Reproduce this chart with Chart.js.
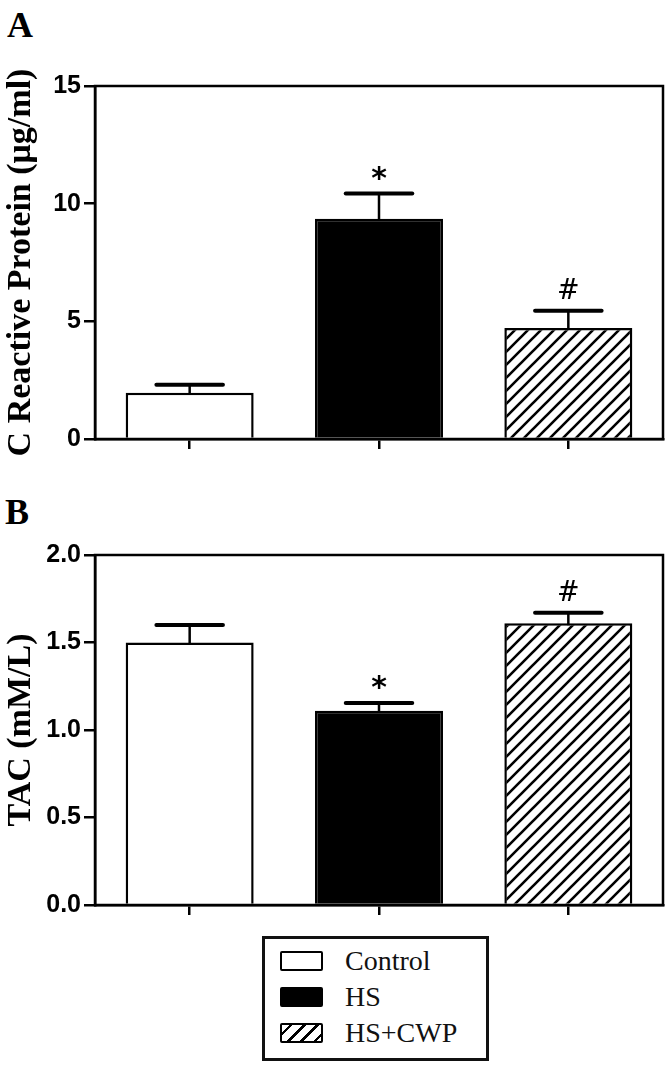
<!DOCTYPE html>
<html>
<head>
<meta charset="utf-8">
<script src="https://cdn.jsdelivr.net/npm/chart.js@4.4.1/dist/chart.umd.min.js"></script>
<style>
    body { margin: 0; background: #fff; width: 668px; height: 1071px; position: relative; overflow: hidden; }
    .painel { position: absolute; left: 0; width: 668px; }
    .letra { position: absolute; font: bold 36px "Liberation Serif", serif; line-height: 36px; color: #000; }
    #legenda {
        position: absolute; left: 262px; top: 936px; width: 227px; height: 125px;
        box-sizing: border-box; border: 3px solid #111; padding: 4px 0 0 15px;
        font: 28px "Liberation Serif", serif; color: #111;
    }
    .item { display: flex; align-items: center; height: 36px; }
    .amostra { width: 43px; height: 20px; box-sizing: border-box; border: 2.5px solid #000; border-radius: 2px; margin-right: 22px; }
</style>
</head>
<body>

<div class="letra" style="left:7px; top:7px">A</div>
<div class="painel" style="top:0; height:470px"><canvas id="grafico-a"></canvas></div>

<div class="letra" style="left:5px; top:494px">B</div>
<div class="painel" style="top:470px; height:460px"><canvas id="grafico-b"></canvas></div>

<div id="legenda">
    <div class="item"><div class="amostra" style="background:#fff"></div>Control</div>
    <div class="item"><div class="amostra" style="background:#000"></div>HS</div>
    <div class="item"><div class="amostra" style="background:repeating-linear-gradient(135deg, #fff 0 5px, #000 5px 7.5px, #fff 7.5px 9.5px)"></div>HS+CWP</div>
</div>

<script>
// Grupos
const grupos = ['Control', 'HS', 'HS+CWP'];

// Painel A - proteína C reativa (µg/ml)
const pcrMedia = [1.96, 9.36, 4.72];
const pcrErro = [0.34, 1.07, 0.73];
const pcrMarcas = ['', '*', '#'];
const pcrTicks = [0, 5, 10, 15];
const pcrTitulo = 'C Reactive Protein (\u03bcg/ml)';

// Painel B - capacidade antioxidante total (mM/L)
const tacMedia = [1.50, 1.11, 1.61];
const tacErro = [0.10, 0.045, 0.06];
const tacMarcas = ['', '*', '#'];
const tacTicks = [0, 0.5, 1.0, 1.5, 2.0];
const tacTitulo = 'TAC (mM/L)';

// Padrão de hachura diagonal
function criarHachura() {
    const s = 13;
    const c = document.createElement('canvas');
    c.width = s; c.height = s;
    const g = c.getContext('2d');
    g.fillStyle = '#fff';
    g.fillRect(0, 0, s, s);
    g.strokeStyle = '#000';
    g.lineWidth = 2.6;
    g.beginPath();
    g.moveTo(-2, s + 2); g.lineTo(s + 2, -2);
    g.moveTo(-2, 2); g.lineTo(2, -2);
    g.moveTo(s - 2, s + 2); g.lineTo(s + 2, s - 2);
    g.stroke();
    return g.createPattern(c, 'repeat');
}

// Barras de erro, marcas, moldura e título do eixo y
function pluginPainel(erros, marcas, titulo) {
    return {
        id: 'painel',
        afterDatasetsDraw(chart) {
            const ctx = chart.ctx;
            const y = chart.scales.y;
            const valores = chart.data.datasets[0].data;
            ctx.save();
            ctx.strokeStyle = '#000';
            ctx.fillStyle = '#000';
            chart.getDatasetMeta(0).data.forEach((barra, i) => {
                const topo = y.getPixelForValue(valores[i] + erros[i]);
                const meio = barra.width * 0.26;
                ctx.lineWidth = 2.5;
                ctx.lineCap = 'butt';
                ctx.beginPath();
                ctx.moveTo(barra.x, barra.y + 2);
                ctx.lineTo(barra.x, topo);
                ctx.stroke();
                ctx.lineWidth = 4;
                ctx.lineCap = 'round';
                ctx.beginPath();
                ctx.moveTo(barra.x - meio, topo);
                ctx.lineTo(barra.x + meio, topo);
                ctx.stroke();
                ctx.textAlign = 'center';
                ctx.textBaseline = 'alphabetic';
                if (marcas[i] === '*') {
                    ctx.font = 'bold 30px "DejaVu Sans", sans-serif';
                    ctx.fillText('*', barra.x, topo - 6);
                } else if (marcas[i] === '#') {
                    ctx.font = '27px "DejaVu Serif", serif';
                    ctx.fillText('#', barra.x, topo - 12);
                }
            });
            ctx.restore();
        },
        afterDraw(chart) {
            const ctx = chart.ctx;
            const a = chart.chartArea;
            ctx.save();
            ctx.strokeStyle = '#000';
            ctx.lineWidth = 2.5;
            ctx.strokeRect(a.left, a.top, a.right - a.left, a.bottom - a.top);
            ctx.translate(21, (a.top + a.bottom) / 2);
            ctx.rotate(-Math.PI / 2);
            ctx.font = 'bold 34px "Liberation Serif", serif';
            ctx.textAlign = 'center';
            ctx.textBaseline = 'middle';
            ctx.fillText(titulo, 0, 0);
            ctx.restore();
        }
    };
}

function criarGrafico(id, medias, erros, marcas, ticks, titulo, alturaX, topo, formato) {
    return new Chart(document.getElementById(id), {
        type: 'bar',
        data: {
            labels: grupos,
            datasets: [{
                data: medias,
                backgroundColor: ['#fff', '#000', criarHachura()],
                borderColor: '#000',
                borderWidth: 2.5,
                borderSkipped: 'bottom',
                categoryPercentage: 1,
                barPercentage: 0.676
            }]
        },
        options: {
            responsive: true,
            maintainAspectRatio: false,
            animation: false,
            layout: { padding: { top: topo, right: 5, left: 0, bottom: 0 } },
            plugins: { legend: { display: false }, tooltip: { enabled: false } },
            scales: {
                x: {
                    z: 1,
                    offset: true,
                    grid: { display: true, drawOnChartArea: false, offset: false, tickLength: 10, color: '#000', lineWidth: 2.5 },
                    border: { display: true, color: '#000', width: 2.5 },
                    ticks: { display: false },
                    afterFit: s => { s.height = alturaX; }
                },
                y: {
                    z: 1,
                    min: ticks[0],
                    max: ticks[ticks.length - 1],
                    afterBuildTicks: s => { s.ticks = ticks.map(v => ({ value: v })); },
                    grid: { display: true, drawOnChartArea: false, tickLength: 11, color: '#000', lineWidth: 2.5 },
                    border: { display: true, color: '#000', width: 2.5 },
                    ticks: {
                        padding: 3,
                        color: '#000',
                        font: { family: '"Liberation Sans", Arial, sans-serif', size: 25, weight: 'bold' },
                        callback: v => formato(v)
                    },
                    afterFit: s => { s.width = 95; }
                }
            }
        },
        plugins: [pluginPainel(erros, marcas, titulo)]
    });
}

criarGrafico('grafico-a', pcrMedia, pcrErro, pcrMarcas, pcrTicks, pcrTitulo, 31, 86, v => String(v));
criarGrafico('grafico-b', tacMedia, tacErro, tacMarcas, tacTicks, tacTitulo, 25, 85, v => v.toFixed(1));
</script>
</body>
</html>
